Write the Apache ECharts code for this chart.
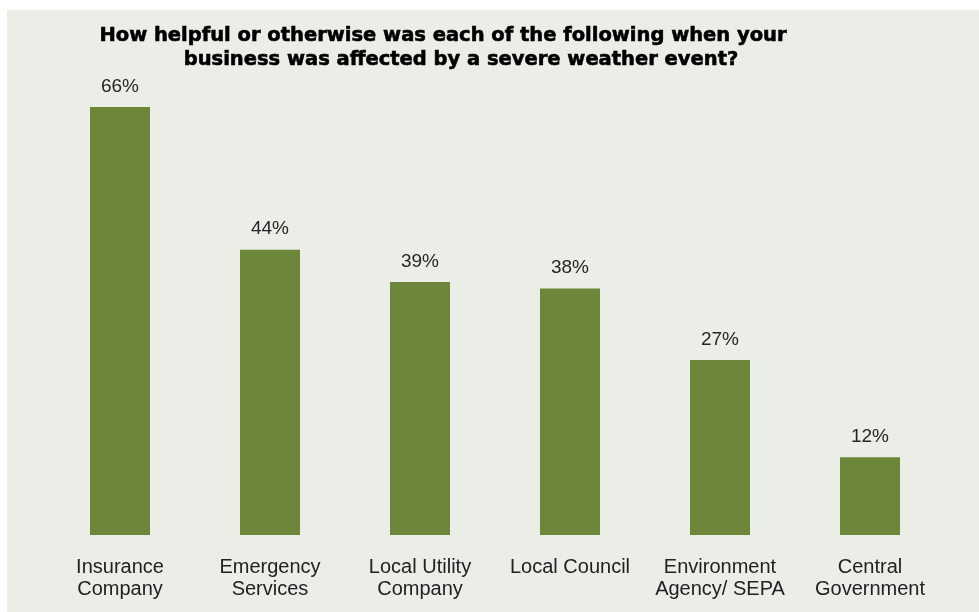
<!DOCTYPE html>
<html>
<head>
<meta charset="utf-8">
<script src="https://cdn.jsdelivr.net/npm/echarts@6/dist/echarts.min.js"></script>
<style>
  html, body { margin: 0; padding: 0; background: #ffffff; }
  #chart { width: 979px; height: 612px; }
</style>
</head>
<body>
<div id="chart"></div>
<script>
const categories = [
  'Insurance\nCompany',
  'Emergency\nServices',
  'Local Utility\nCompany',
  'Local Council',
  'Environment\nAgency/ SEPA',
  'Central\nGovernment'
];
const helpfulPct = [66, 44, 39, 38, 27, 12];
const titleLines = [
  'How helpful or otherwise was each of the following when your',
  'business was affected by a severe weather event?'
];

const chart = echarts.init(document.getElementById('chart'));

// heavy black title, slightly stroked to look like the original's black weight
const titleStyle = {
  fontFamily: 'DejaVu Sans',
  fontWeight: 'bold',
  fontSize: 19.5,
  color: '#000000',
  textBorderColor: '#000000',
  textBorderWidth: 0.6
};

chart.setOption({
  backgroundColor: '#ffffff',
  graphic: [{
    type: 'rect',
    z: -10,
    shape: { x: 7, y: 10, width: 972, height: 602 },
    style: { fill: '#ebede7' },
    silent: true
  }],
  title: [
    { text: titleLines[0], left: 438, top: 21, textAlign: 'center', textStyle: titleStyle },
    { text: titleLines[1], left: 456, top: 45, textAlign: 'center', textStyle: titleStyle }
  ],
  grid: { left: 45, right: 34, top: 81, bottom: 77 },
  xAxis: {
    type: 'category',
    data: categories,
    axisLine: { show: false },
    axisTick: { show: false },
    axisLabel: {
      interval: 0,
      margin: 21,
      fontFamily: 'Liberation Sans',
      fontSize: 20,
      lineHeight: 22,
      color: '#222222'
    }
  },
  yAxis: {
    type: 'value',
    min: 0,
    max: 70,
    show: false,
    splitLine: { show: false }
  },
  series: [{
    type: 'bar',
    data: helpfulPct,
    barWidth: 60,
    itemStyle: { color: '#6c873a' },
    label: {
      show: true,
      position: 'top',
      distance: 11,
      formatter: '{c}%',
      fontFamily: 'Liberation Sans',
      fontSize: 19,
      color: '#262626'
    },
    animation: false
  }]
});
</script>
</body>
</html>
